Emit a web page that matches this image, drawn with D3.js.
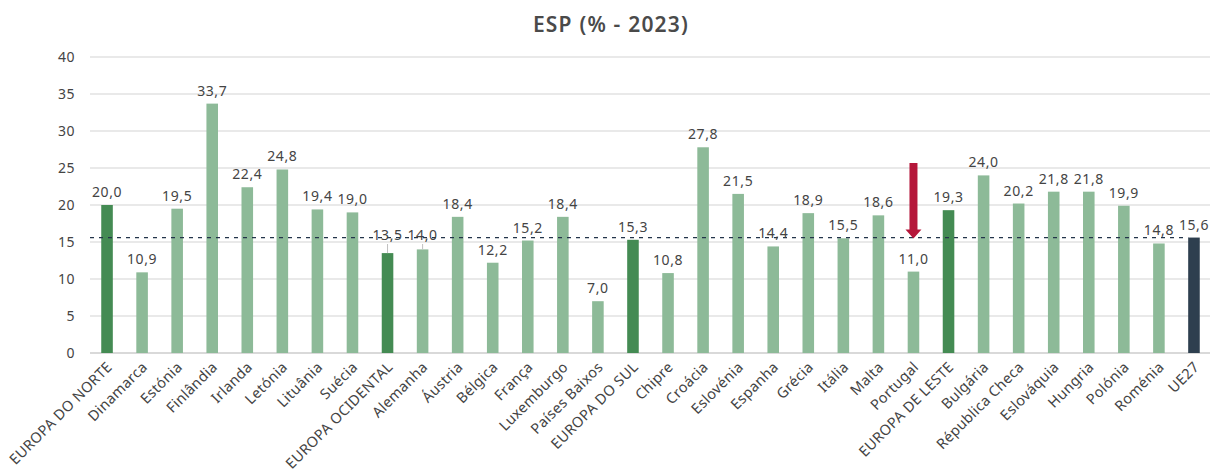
<!DOCTYPE html>
<html>
<head>
<meta charset="utf-8">
<script src="https://d3js.org/d3.v7.min.js"></script>
<title>ESP (% - 2023)</title>
<style>
  body { margin: 0; background: #fff; }
  svg text { font-family: "Noto Sans", sans-serif; fill: #444; }
</style>
</head>
<body>
<div id="chart"></div>
<script>
// categories and values (ESP %, 2023)
var categories = ["EUROPA DO NORTE", "Dinamarca", "Estónia", "Finlândia", "Irlanda", "Letónia",
  "Lituânia", "Suécia", "EUROPA OCIDENTAL", "Alemanha", "Áustria", "Bélgica", "França",
  "Luxemburgo", "Países Baixos", "EUROPA DO SUL", "Chipre", "Croácia", "Eslovénia", "Espanha",
  "Grécia", "Itália", "Malta", "Portugal", "EUROPA DE LESTE", "Bulgária", "Républica Checa",
  "Eslováquia", "Hungria", "Polónia", "Roménia", "UE27"];
var values = [20.0, 10.9, 19.5, 33.7, 22.4, 24.8, 19.4, 19.0, 13.5, 14.0, 18.4, 12.2, 15.2,
  18.4, 7.0, 15.3, 10.8, 27.8, 21.5, 14.4, 18.9, 15.5, 18.6, 11.0, 19.3, 24.0, 20.2, 21.8,
  21.8, 19.9, 14.8, 15.6];
// bar type: "r" region, "c" country, "eu" EU average
var types = ["r", "c", "c", "c", "c", "c", "c", "c", "r", "c", "c", "c", "c", "c", "c", "r",
  "c", "c", "c", "c", "c", "c", "c", "c", "r", "c", "c", "c", "c", "c", "c", "eu"];
var yTicks = [0, 5, 10, 15, 20, 25, 30, 35, 40];
var euAverage = 15.6;
var highlight = "Portugal";
var title = "ESP (% - 2023)";

var W = 1210, H = 473;
var colors = { r: "#448b53", c: "#8dba98", eu: "#2e3f4f" };
var fmt = function (v) { return d3.format(".1f")(v).replace(".", ","); };

var svg = d3.select("#chart").append("svg").attr("width", W).attr("height", H);

var x = d3.scaleBand().domain(categories).range([89.5, 1211.5]).paddingInner(0.67).paddingOuter(0.335);
var y = d3.scaleLinear().domain([0, 40]).range([353, 57]);

svg.append("text")
  .attr("x", 611).attr("y", 32)
  .attr("text-anchor", "middle")
  .style("font-size", "21px").style("font-weight", "600").style("fill", "#4a4a4a")
  .style("letter-spacing", "1.2px")
  .text(title);

// grid
svg.append("g").selectAll("line").data(yTicks).enter().append("line")
  .attr("x1", 90).attr("x2", 1210)
  .attr("y1", function (d) { return y(d); }).attr("y2", function (d) { return y(d); })
  .style("stroke", function (d) { return d === 0 ? "#d9d9d9" : "#e2e2e2"; })
  .style("stroke-width", function (d) { return d === 0 ? 2 : 1.3; });

// y axis labels
var yAxis = d3.axisLeft(y).tickValues(yTicks).tickSize(0).tickPadding(0);
var ya = svg.append("g").attr("transform", "translate(75,0)").call(yAxis);
ya.select(".domain").remove();
ya.selectAll("text").style("font-size", "14px").style("fill", "#444")
  .style("font-family", "'Noto Sans', sans-serif").style("letter-spacing", "0.5px").attr("dy", "0.35em");

// bars
svg.selectAll("rect.bar").data(categories).enter().append("rect")
  .attr("class", "bar")
  .attr("x", function (d) { return x(d); })
  .attr("width", x.bandwidth())
  .attr("y", function (d, i) { return y(values[i]); })
  .attr("height", function (d, i) { return y(0) - y(values[i]); })
  .attr("fill", function (d, i) { return colors[types[i]]; });

// EU average dashed line
svg.append("line")
  .attr("x1", 90).attr("x2", x("UE27"))
  .attr("y1", y(euAverage)).attr("y2", y(euAverage))
  .attr("stroke", "#23344a").attr("stroke-width", 1.2)
  .attr("stroke-dasharray", "4,5");

// value labels (two of them are lifted with a small leader line)
var lifted = { "EUROPA OCIDENTAL": 240, "Alemanha": 240 };
svg.selectAll("text.val").data(categories).enter().append("text")
  .attr("class", "val")
  .attr("x", function (d) { return x(d) + x.bandwidth() / 2; })
  .attr("y", function (d, i) { return lifted[d] !== undefined ? lifted[d] : y(values[i]) - 8; })
  .attr("text-anchor", "middle")
  .style("font-size", "14px").style("letter-spacing", "0.6px")
  .text(function (d, i) { return fmt(values[i]); });

svg.selectAll("line.leader").data(categories.filter(function (d) { return lifted[d] !== undefined; }))
  .enter().append("line")
  .attr("class", "leader")
  .attr("x1", function (d) { return x(d) + x.bandwidth() / 2; })
  .attr("x2", function (d) { return x(d) + x.bandwidth() / 2; })
  .attr("y1", function (d) { return lifted[d] + 4; })
  .attr("y2", function (d) { return y(values[categories.indexOf(d)]); })
  .attr("stroke", "#bfbfbf").attr("stroke-width", 1);

// category labels
svg.selectAll("text.cat").data(categories).enter().append("text")
  .attr("class", "cat")
  .attr("text-anchor", "end")
  .attr("transform", function (d) {
    return "translate(" + (x(d) + x.bandwidth() / 2 + 6) + "," + (y(0) + 15) + ") rotate(-45)";
  })
  .style("font-size", "14.5px").style("letter-spacing", "0.3px")
  .text(function (d) { return d; });

// red arrow pointing at Portugal
var ax = x(highlight) + x.bandwidth() / 2;
var tip = y(euAverage) + 1;
var arrow = d3.path();
arrow.moveTo(ax - 4, 163);
arrow.lineTo(ax + 4, 163);
arrow.lineTo(ax + 4, tip - 9);
arrow.lineTo(ax + 8, tip - 9);
arrow.lineTo(ax, tip);
arrow.lineTo(ax - 8, tip - 9);
arrow.lineTo(ax - 4, tip - 9);
arrow.closePath();
svg.append("path").attr("d", arrow.toString()).attr("fill", "#b5173a");
</script>
</body>
</html>
